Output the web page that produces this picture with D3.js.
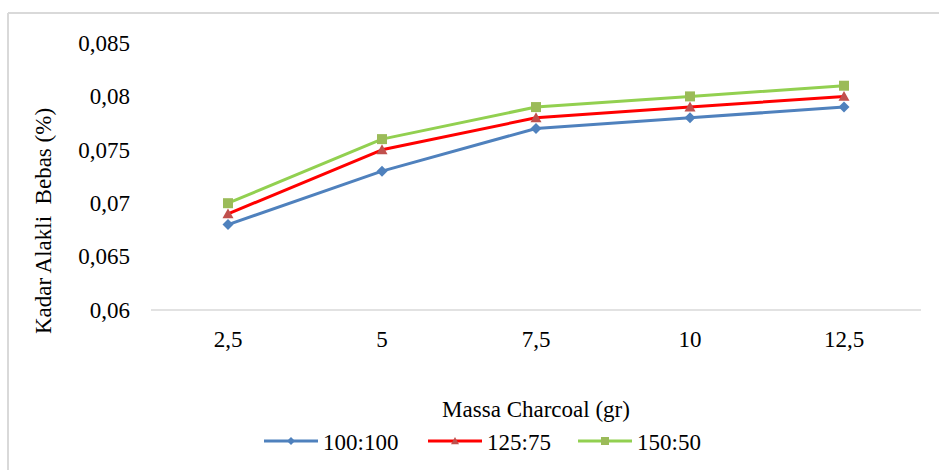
<!DOCTYPE html>
<html>
<head>
<meta charset="utf-8">
<script src="https://cdn.jsdelivr.net/npm/d3@7/dist/d3.min.js"></script>
<style>
html,body{margin:0;padding:0;background:#fff;}
svg{display:block;}
svg text{font-family:"Liberation Serif","Tinos","DejaVu Serif",serif !important;fill:#000;}
</style>
</head>
<body>
<svg id="chart" width="939" height="470"></svg>
<script>
const categories = ["2,5", "5", "7,5", "10", "12,5"];
const seriesNames = ["100:100", "125:75", "150:50"];
const values100_100 = [0.068, 0.073, 0.077, 0.078, 0.079];
const values125_75 = [0.069, 0.075, 0.078, 0.079, 0.080];
const values150_50 = [0.070, 0.076, 0.079, 0.080, 0.081];
const yTicks = [0.06, 0.065, 0.07, 0.075, 0.08, 0.085];
const yTickLabels = ["0,06", "0,065", "0,07", "0,075", "0,08", "0,085"];

const series = [
  {name: seriesNames[0], values: values100_100, line: "#4F81BD", marker: "#4F81BD", shape: "diamond"},
  {name: seriesNames[1], values: values125_75, line: "#FF0000", marker: "#C0504D", shape: "triangle"},
  {name: seriesNames[2], values: values150_50, line: "#92D050", marker: "#9BBB59", shape: "square"}
];

const FS = "23px";
const svg = d3.select("#chart");

// outer frame (top and left edges visible)
svg.append("line").attr("x1", 8).attr("x2", 939).attr("y1", 13).attr("y2", 13)
  .attr("stroke", "#d9d9d9").attr("stroke-width", 2);
svg.append("line").attr("x1", 8).attr("x2", 8).attr("y1", 13).attr("y2", 470)
  .attr("stroke", "#d9d9d9").attr("stroke-width", 2);

const x = d3.scaleBand().domain(categories).range([151, 921]);
const y = d3.scaleLinear().domain([0.06, 0.085]).range([310, 43]);

// x axis baseline
svg.append("line").attr("x1", 151).attr("x2", 921).attr("y1", y(0.06)).attr("y2", y(0.06))
  .attr("stroke", "#d9d9d9").attr("stroke-width", 1.3);

// y tick labels
const yAxis = d3.axisLeft(y).tickValues(yTicks).tickSize(0).tickPadding(0)
  .tickFormat((d, i) => yTickLabels[i]);
const yg = svg.append("g").attr("transform", "translate(130,0)").call(yAxis);
yg.attr("font-family", null).attr("font-size", null);
yg.select(".domain").remove();
yg.selectAll("text").style("font-size", FS).attr("fill", "#000");

// x tick labels
const xAxis = d3.axisBottom(x).tickSize(0).tickPadding(0);
const xg = svg.append("g").attr("transform", "translate(0,331)").call(xAxis);
xg.attr("font-family", null).attr("font-size", null);
xg.select(".domain").remove();
xg.selectAll("text").style("font-size", FS).attr("fill", "#000");

// axis titles
svg.append("text").attr("x", 536).attr("y", 417).attr("text-anchor", "middle")
  .style("font-size", FS).text("Massa Charcoal (gr)");
svg.append("text").attr("transform", "translate(51,221) rotate(-90)").attr("text-anchor", "middle")
  .style("font-size", FS).style("white-space", "pre").text("Kadar Alakli  Bebas (%)");

const cx = d => x(d) + x.bandwidth() / 2;
const line = d3.line().x((d, i) => cx(categories[i])).y(d => y(d));

function drawMarker(g, shape, color, px, py, s) {
  if (shape === "diamond") {
    g.append("path").attr("d", `M${px},${py - s}L${px + s},${py}L${px},${py + s}L${px - s},${py}Z`).attr("fill", color);
  } else if (shape === "triangle") {
    g.append("path").attr("d", `M${px},${py - s}L${px + s},${py + s * 0.8}L${px - s},${py + s * 0.8}Z`).attr("fill", color);
  } else {
    g.append("rect").attr("x", px - s).attr("y", py - s).attr("width", 2 * s).attr("height", 2 * s).attr("fill", color);
  }
}

series.forEach(s => {
  const g = svg.append("g");
  g.append("path").datum(s.values).attr("d", line).attr("fill", "none")
    .attr("stroke", s.line).attr("stroke-width", 3).attr("stroke-linejoin", "round");
  s.values.forEach((v, i) => {
    drawMarker(g, s.shape, s.marker, cx(categories[i]), y(v), s.shape === "square" ? 5 : 5.5);
  });
});

// legend
const legendX = [264, 428, 578];
series.forEach((s, i) => {
  const g = svg.append("g");
  const lx = legendX[i], ly = 441;
  g.append("line").attr("x1", lx).attr("x2", lx + 54).attr("y1", ly).attr("y2", ly)
    .attr("stroke", s.line).attr("stroke-width", 3);
  drawMarker(g, s.shape, s.marker, lx + 27, ly, 4);
  g.append("text").attr("x", lx + 59).attr("y", ly + 9).style("font-size", FS).text(s.name);
});
</script>
</body>
</html>
